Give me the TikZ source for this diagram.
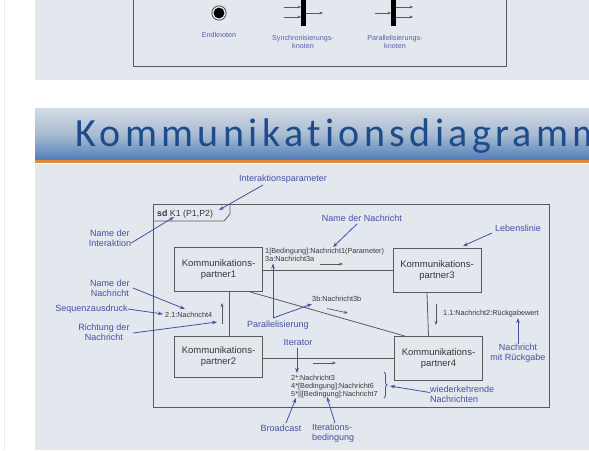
\documentclass[tikz,border=0pt]{standalone}
\usepackage{fontspec}
\setmainfont{Liberation Sans}
\newfontfamily\titlefont[LetterSpace=11,Ligatures=NoCommon]{Carlito}
\usetikzlibrary{arrows.meta,calc,decorations.pathreplacing}

\definecolor{panel}{HTML}{E3E7EE}
\definecolor{notecol}{HTML}{4650A0}
\definecolor{keylabel}{HTML}{5A60A8}
\definecolor{edge}{HTML}{5A5A5A}
\definecolor{ink}{HTML}{383838}
\definecolor{titleblue}{HTML}{1D4C8A}
\definecolor{bandorange}{HTML}{E08A3A}
\definecolor{bandtop}{HTML}{D3DBE6}
\definecolor{bandmid}{HTML}{A8BBD2}
\definecolor{bandbot}{HTML}{4E7CB7}

\tikzset{
  partner/.style={draw=edge, line width=0.8pt, fill=panel, minimum width=88pt,
    minimum height=44pt, align=center, text=ink, inner sep=0pt,
    font=\fontsize{9.5}{11}\selectfont},
  link/.style={draw=edge, line width=0.8pt},
  note/.style={text=notecol, font=\fontsize{9}{10}\selectfont, align=center, inner sep=0pt},
  noteline/.style={draw=notecol, line width=0.8pt, -{Stealth[length=5pt,width=3.6pt]}},
  msg/.style={text=ink, font=\fontsize{7.3}{7.8}\selectfont, inner sep=0pt, align=left},
  msgarrow/.style={draw=edge, line width=0.7pt, -{Stealth[length=4pt,width=3pt]}},
  keytext/.style={text=keylabel, font=\fontsize{7.2}{8.2}\selectfont, align=center, inner sep=0pt},
  keyarrow/.style={draw=edge, line width=0.7pt, -{Stealth[length=3.5pt,width=2.8pt]}}
}

\begin{document}
\begin{tikzpicture}[x=1pt,y=-1pt]
\clip (0,0) rectangle (589,450);
\fill[white] (0,0) rectangle (589,450);
\draw[black!8, line width=0.8pt] (4,0) -- (4,450);

% ---------- legend panel with activity nodes ----------
\fill[panel] (35,0) rectangle (589,80);
\draw[edge, line width=0.7pt] (133,-2) -- (133,66) -- (506,66) -- (506,-2);

% final node
\fill[black] (219,13) circle (5.4);
\draw[black!75, line width=0.7pt] (219,13) circle (7.2);
\node[keytext] (endlbl) at (219,35) {Endknoten};

% synchronisation node
\fill[black] (301,-2) rectangle (305.5,26);
\coordinate (syncA) at (284,7);
\coordinate (syncB) at (284,17);
\coordinate (syncOut) at (323,13);
\draw[keyarrow] (syncA) -- (301,7);
\draw[keyarrow] (syncB) -- (301,17);
\draw[keyarrow] (305.5,13) -- (syncOut);
\node[keytext] (synclbl) at (303,42) {Synchronisierungs-\\knoten};

% fork node
\fill[black] (391,-2) rectangle (395.5,26);
\coordinate (forkIn) at (375,13);
\coordinate (forkA) at (413,7);
\coordinate (forkB) at (413,17);
\draw[keyarrow] (forkIn) -- (391,13);
\draw[keyarrow] (395.5,7) -- (forkA);
\draw[keyarrow] (395.5,17) -- (forkB);
\node[keytext] (forklbl) at (395,42) {Parallelisierungs-\\knoten};

% ---------- title band ----------
\shade[top color=bandtop, bottom color=bandbot, middle color=bandmid]
  (35,108) rectangle (589,161);
\fill[bandorange] (35,160) rectangle (589,163);
\node[anchor=base west, inner sep=0pt, text=titleblue,
      font=\titlefont\fontsize{40}{40}\selectfont] (title) at (75,146) {Kommunikationsdiagramm};

% ---------- diagram panel ----------
\fill[panel] (35,164) rectangle (589,450);

% sd frame
\draw[edge, line width=0.8pt] (153,204) rectangle (549,407);
\draw[edge, line width=0.8pt] (153,221) -- (224,221) -- (230,214) -- (230,204);
\node[anchor=base west, inner sep=0pt, text=ink, font=\fontsize{8.8}{9}\selectfont]
  (sdname) at (157,216.5) {\textbf{sd} K1 (P1,P2)};

% lifelines
\node[partner] (P1) at (218.5,269.5) {Kommunikations-\\partner1};
\node[partner] (P3) at (437,270.5) {Kommunikations-\\partner3};
\node[partner, minimum height=41pt] (P2) at (218.5,356.5) {Kommunikations-\\partner2};
\node[partner] (P4) at (438.5,358.5) {Kommunikations-\\partner4};

% links
\draw[link] (P1.east |- 0,270) -- (P3.west |- 0,270);
\draw[link] ($(P1.south)+(10.5,0)$) -- ($(P2.north)+(10.5,0)$);
\draw[link] ($(P3.south)+(-10,0)$) -- ($(P4.north)+(-10,0)$);
\draw[link] (P2.east |- 0,358) -- (P4.west |- 0,358);
\draw[link] ($(P1.south)+(31.5,0)$) -- ($(P4.north)+(-33.5,0)$);

% messages
\node[msg, anchor=north west] (m1) at (265,248.5)
  {1[Bedingung]:Nachricht1(Parameter)\\3a:Nachricht3a};
\coordinate (m1a) at (320,264);
\coordinate (m1b) at (343,264);
\draw[msgarrow] (m1a) -- (m1b);

\node[msg, anchor=west] (m3b) at (312,299) {3b:Nachricht3b};
\coordinate (m3ba) at (327,308.5);
\coordinate (m3bb) at (348,313);
\draw[msgarrow] (m3ba) -- (m3bb);

\node[msg, anchor=west] (m21) at (165,314.5) {2.1:Nachricht4};
\coordinate (m21a) at (222,324);
\coordinate (m21b) at (222,303);
\draw[msgarrow, line width=0.9pt] (m21a) -- (m21b);

\node[msg, anchor=west] (m11) at (443,314) {1.1:Nachricht2:Rückgabewert};
\coordinate (m11a) at (436,304);
\coordinate (m11b) at (436,325);
\draw[msgarrow, line width=0.9pt] (m11a) -- (m11b);

\coordinate (m24a) at (313,363);
\coordinate (m24b) at (336,363);
\draw[msgarrow] (m24a) -- (m24b);
\node[msg, anchor=north west] (mit) at (291,375)
  {2*:Nachricht3\\4*[Bedingung]:Nachricht6\\5*||[Bedingung]:Nachricht7};
\draw[notecol, line width=0.8pt, decorate, decoration={brace, amplitude=3pt}]
  (384,372) -- coordinate (brtip) (384,398);

% ---------- annotations ----------
\node[note] (n-param) at (283,179) {Interaktionsparameter};
\coordinate (t-param) at (219,210);
\draw[noteline] (263,185) -- (t-param);

\node[note] (n-inter) at (110,238.5) {Name der\\Interaktion};
\coordinate (t-inter) at (174,217);
\draw[noteline] (n-inter.east |- 0,243) -- (t-inter);

\node[note] (n-msgname) at (362,218) {Name der Nachricht};
\coordinate (t-msgname) at (333,247);
\draw[noteline] (357,224) -- (t-msgname);

\node[note] (n-life) at (518,228) {Lebenslinie};
\coordinate (t-life) at (463,246);
\draw[noteline] (492,233) -- (t-life);

\node[note] (n-msgname2) at (110,288.5) {Name der\\Nachricht};
\coordinate (t-msgname2) at (185,309);
\draw[noteline] (133,288) -- (t-msgname2);

\node[note] (n-seq) at (91.5,309) {Sequenzausdruck};
\coordinate (t-seq) at (163,314);
\draw[noteline] (n-seq.east) -- (t-seq);

\node[note] (n-dir) at (104,332) {Richtung der\\Nachricht};
\coordinate (t-dir) at (217,322);
\draw[noteline] (133,333) -- (t-dir);

\node[note] (n-par) at (278,325) {Parallelisierung};
\coordinate (par-v) at (273,318);
\coordinate (t-par3a) at (273,263.5);
\coordinate (t-par3b) at (312,304);
\draw[noteline] (par-v) -- (t-par3a);
\draw[noteline] (par-v) -- (t-par3b);

\node[note] (n-iter) at (298,342) {Iterator};
\coordinate (t-iter) at (297,373);
\draw[noteline] (297,347.5) -- (t-iter);

\node[note] (n-ret) at (518,353) {Nachricht\\mit Rückgabe};
\coordinate (t-ret) at (518,318);
\draw[noteline] (n-ret.north) -- (t-ret);

\node[note, align=left, anchor=north west, font=\fontsize{9}{9.5}\selectfont]
  (n-rep) at (430,386) {wiederkehrende\\Nachrichten};
\coordinate (t-rep) at (390,386);
\draw[noteline] (430,392.5) -- (t-rep);

\node[note] (n-bc) at (281,428) {Broadcast};
\coordinate (t-bc) at (296,398);
\draw[noteline] (286,423) -- (t-bc);

\node[note, align=left, anchor=north west] (n-itc) at (312,423.5) {Iterations-\\bedingung};
\coordinate (t-itc) at (327,397);
\draw[noteline] (335,423) -- (t-itc);

\end{tikzpicture}
\end{document}
